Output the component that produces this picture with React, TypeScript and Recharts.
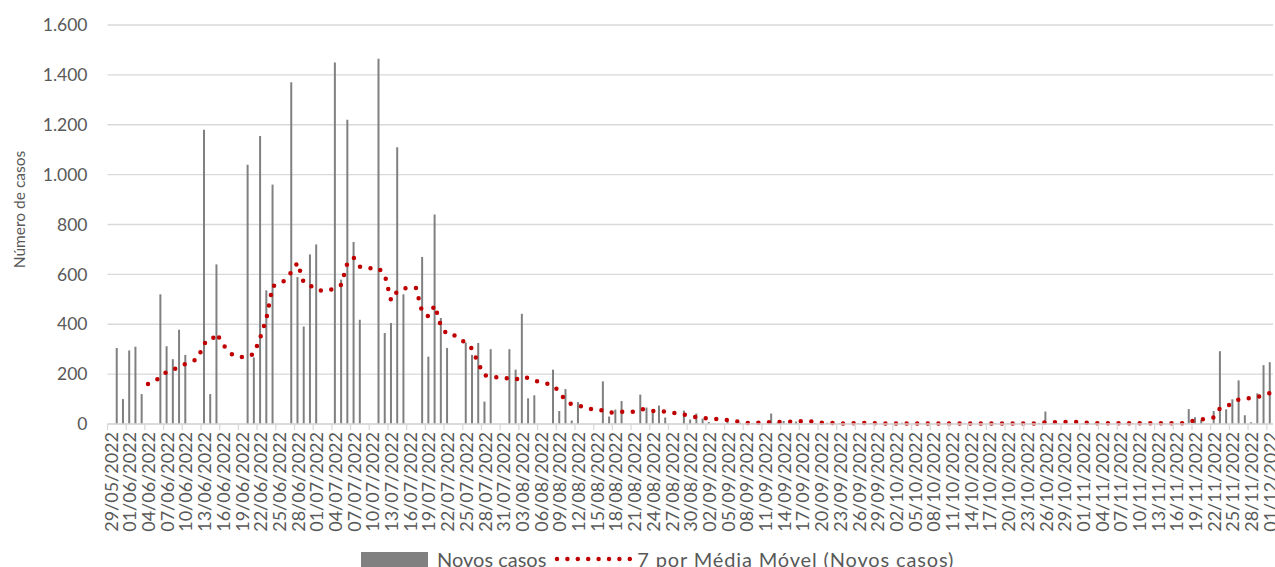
import { Bar, CartesianGrid, ComposedChart, Label, Legend, Line, XAxis, YAxis } from 'recharts';

const n = null;

// one row per week (Sun..Sat), first day 29/05/2022
const novosCasos: (number | null)[] = [
  n, 305, 100, 295, 310, 120, n,
  n, 520, 312, 260, 378, 277, n,
  n, 1180, 120, 640, n, n, n,
  n, 1040, 267, 1155, 536, 960, n,
  n, 1370, 589, 391, 680, 720, n,
  n, 1450, 579, 1220, 730, 418, n,
  n, 1465, 365, 405, 1110, 520, n,
  n, 670, 270, 840, 425, 305, n,
  n, 327, 277, 325, 90, 300, n,
  n, 300, 218, 442, 103, 115, n,
  n, 218, 52, 140, 14, 88, n,
  n, n, 171, 30, 58, 92, n,
  n, 118, 66, 44, 74, 26, n,
  n, 54, 18, 42, 21, 8, n,
  n, 9, 3, 5, 2, 4, n,
  n, 42, 5, 12, 3, 10, n,
  n, 4, 3, 5, 2, 3, n,
  n, 3, 2, 4, 2, 3, n,
  n, 5, 2, 3, 2, 2, n,
  n, 3, 2, 3, 2, 3, n,
  n, 2, 3, 2, 3, 2, n,
  n, 3, 4, 50, 4, 3, n,
  n, 2, 3, 2, 4, 2, n,
  n, 3, 2, 4, 3, 2, n,
  n, 2, 3, 3, 2, 60, 27,
  16, n, 52, 292, 59, 99, 175,
  35, 7, 123, 236, 248,
];

const mediaMovel: (number | null)[] = [
  n, n, n, n, n, n, 160,
  169, 189, 210, 216, 231, 241, 249,
  263, 324, 329, 364, 320, 287, 272,
  269, 268, 282, 346, 423, 553, 561,
  576, 609, 647, 565, 556, 539, 534,
  537, 544, 558, 646, 667, 631, 626,
  624, 625, 597, 495, 532, 543, 548,
  545, 447, 432, 476, 392, 359, 357,
  346, 322, 302, 242, 195, 190, 187,
  187, 181, 178, 190, 184, 174, 168,
  162, 154, 130, 92, 79, 72, 71,
  61, 54, 55, 47, 46, 49, 48,
  50, 60, 58, 52, 52, 50, 46,
  42, 38, 32, 27, 24, 22, 20,
  18, 16, 12, 8, 4, 4, 5,
  6, 7, 8, 9, 9, 10, 11,
  11, 8, 5, 4, 4, 2, 2,
  3, 4, 4, 3, 3, 2, 2,
  2, 3, 2, 2, 2, 2, 2,
  2, 2, 2, 2, 2, 2, 2,
  2, 2, 2, 2, 2, 2, 2,
  2, 2, 4, 6, 7, 8, 8,
  8, 8, 6, 4, 3, 3, 3,
  3, 3, 3, 3, 3, 3, 3,
  3, 3, 3, 3, 3, 9, 15,
  18, 21, 26, 63, 71, 82, 98,
  101, 104, 108, 116, 124,
];

const yTicks = [0, 200, 400, 600, 800, 1000, 1200, 1400, 1600];

const pad = (v: number) => String(v).padStart(2, '0');
const dias = novosCasos.map((_, i) => {
  const d = new Date(2022, 4, 29 + i);
  return `${pad(d.getDate())}/${pad(d.getMonth() + 1)}/${d.getFullYear()}`;
});

const data = dias.map((label, i) => ({ label, novos: novosCasos[i], media: mediaMovel[i] }));

const W = 1275;
const H = 567;
const FONT = 'Lato, "Open Sans", sans-serif';
const TEXT = '#595959';
const GRID = '#d9d9d9';
const BAR = '#808080';
const RED = '#c00000';
const M = { top: 25, right: 2, bottom: 0, left: 0 };
const Y_W = 107.5;
const halfBand = (W - M.right - Y_W) / dias.length / 2;

const fmt = (v: number) =>
  v >= 1000 ? `${Math.floor(v / 1000)}.${String(v % 1000).padStart(3, '0')}` : String(v);

function DateTick(props: any) {
  const { x, y, payload } = props;
  return (
    <g>
      <line x1={x - halfBand} x2={x - halfBand} y1={y - 8} y2={y - 2} stroke={GRID} strokeWidth={1.3} />
      <text
        x={x}
        y={y}
        transform={`rotate(-90 ${x} ${y})`}
        textAnchor="end"
        dominantBaseline="central"
        fill={TEXT}
        fontSize={18}
        fontFamily={FONT}
      >
        {payload.value}
      </text>
    </g>
  );
}

function Legenda() {
  return (
    <div style={{ display: 'flex', alignItems: 'center', marginLeft: 361, fontFamily: FONT, fontSize: 20, color: TEXT, whiteSpace: 'nowrap' }}>
      <span style={{ display: 'inline-block', width: 67, height: 15, background: BAR, marginRight: 9 }} />
      <span>Novos casos</span>
      <svg width={78} height={10} style={{ marginLeft: 8, marginRight: 5 }}>
        <line x1={3} x2={76} y1={5} y2={5} stroke={RED} strokeWidth={4.5} strokeDasharray="0 10.4" strokeLinecap="round" />
      </svg>
      <span style={{ letterSpacing: 0.85 }}>7 por Média Móvel (Novos casos)</span>
    </div>
  );
}

export default function App() {
  return (
    <div style={{ position: 'absolute', left: 0, top: 0, width: W, height: H, overflow: 'hidden', background: '#fff' }}>
      <ComposedChart width={W} height={H} data={data} margin={M} barCategoryGap={0}>
        <CartesianGrid vertical={false} stroke={GRID} strokeWidth={1.3} />
        <XAxis
          dataKey="label"
          interval={2}
          tick={<DateTick />}
          tickLine={false}
          tickSize={8}
          tickMargin={0}
          height={143}
          axisLine={{ stroke: GRID, strokeWidth: 1.3 }}
        />
        <YAxis
          domain={[0, 1600]}
          ticks={yTicks}
          tickFormatter={fmt}
          width={Y_W}
          axisLine={false}
          tickLine={false}
          tickSize={0}
          tickMargin={20}
          tick={{ fill: TEXT, fontSize: 17.5, fontFamily: FONT }}
        >
          <Label
            content={({ viewBox }: any) => {
              const cy = viewBox.y + viewBox.height / 2 - 15;
              return (
                <text x={25} y={cy} transform={`rotate(-90 25 ${cy})`} textAnchor="middle" fill={TEXT} fontSize={15.5} fontFamily={FONT}>
                  Número de casos
                </text>
              );
            }}
          />
        </YAxis>
        <Legend
          layout="horizontal"
          verticalAlign="middle"
          align="center"
          wrapperStyle={{ top: 547, left: 0, width: W }}
          content={() => <Legenda />}
        />
        <Bar dataKey="novos" name="Novos casos" fill={BAR} barSize={2} isAnimationActive={false} />
        <Line
          dataKey="media"
          name="7 por Média Móvel (Novos casos)"
          type="linear"
          stroke={RED}
          strokeWidth={4.5}
          strokeDasharray="0 10.6"
          strokeLinecap="round"
          dot={false}
          activeDot={false}
          connectNulls
          isAnimationActive={false}
        />
      </ComposedChart>
    </div>
  );
}
